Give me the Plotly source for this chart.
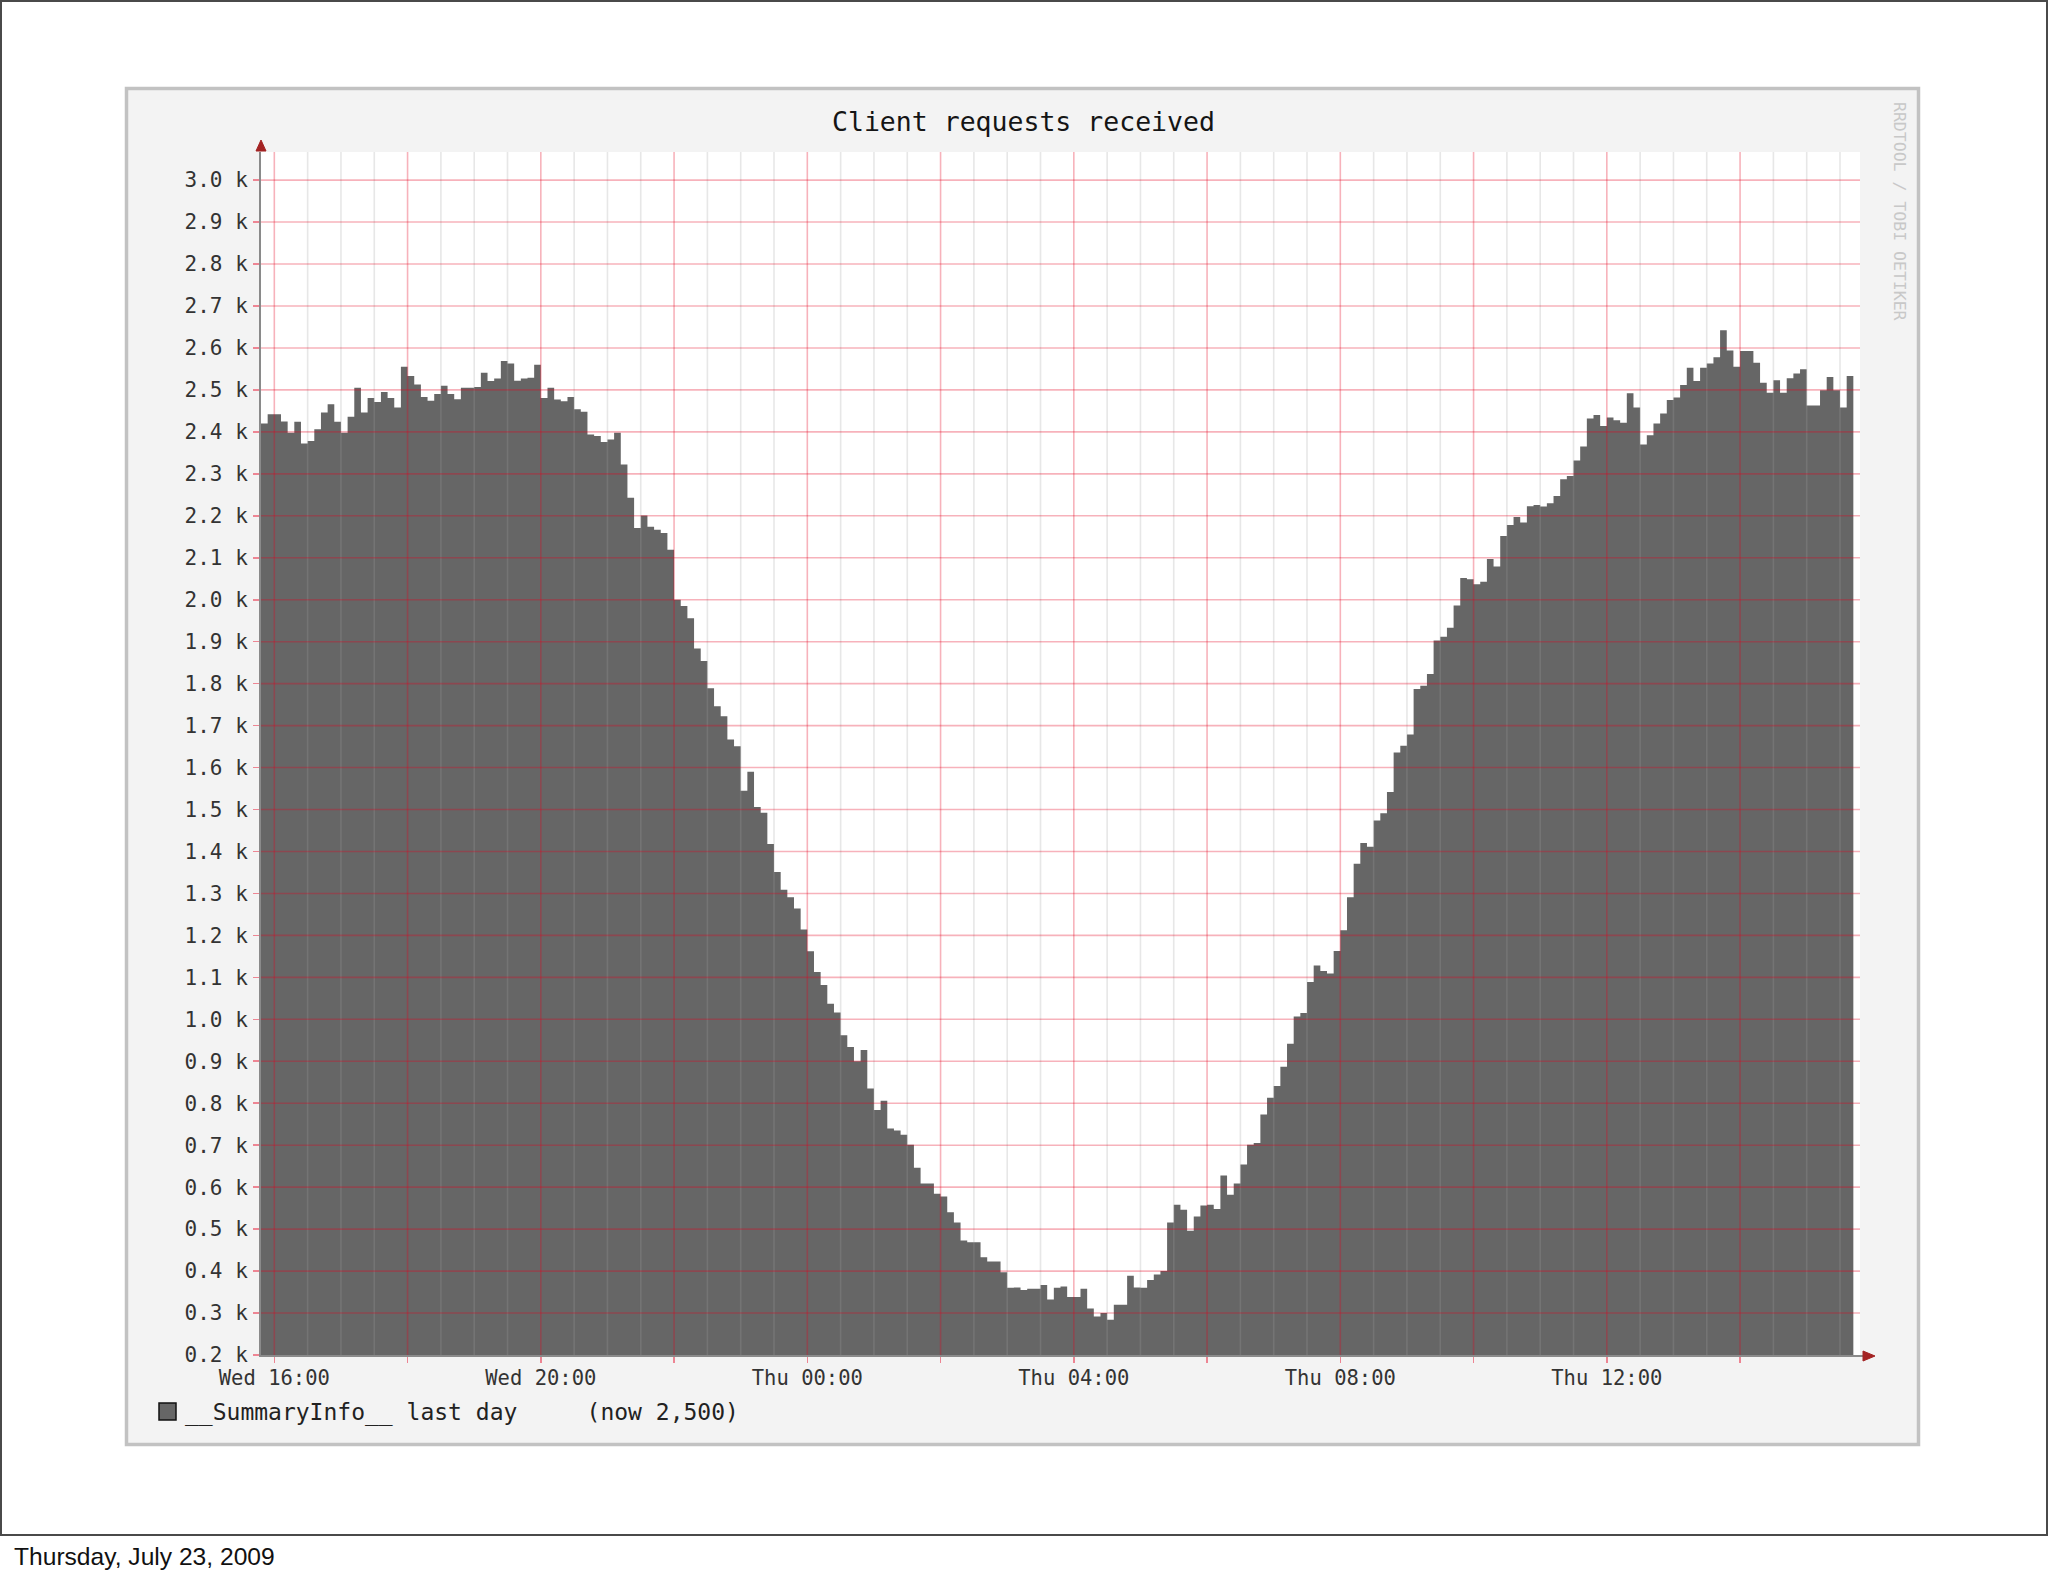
import plotly.graph_objects as go
import pandas as pd

W, H = 2048, 1576

# ---------------- data ----------------
title_text = "Client requests received"
legend_text = "__SummaryInfo__ last day     (now 2,500)"
date_text = "Thursday, July 23, 2009"
watermark_text = "RRDTOOL / TOBI OETIKER"

start_time = "2009-07-22 15:48"   # start of first 6-minute step
end_time = "2009-07-23 15:48"     # right edge of the graph
step = "6min"

requests = [
    2420, 2442, 2442, 2425, 2398, 2424, 2372, 2378, 2406, 2446,
    2466, 2424, 2398, 2436, 2505, 2446, 2481, 2471, 2495, 2481,
    2458, 2555, 2533, 2513, 2483, 2474, 2490, 2510, 2490, 2478,
    2505, 2505, 2507, 2541, 2521, 2527, 2569, 2563, 2522, 2527,
    2529, 2560, 2481, 2505, 2477, 2473, 2483, 2454, 2448, 2394,
    2390, 2376, 2382, 2398, 2322, 2243, 2171, 2201, 2174, 2167,
    2159, 2119, 2000, 1985, 1956, 1884, 1854, 1789, 1746, 1722,
    1667, 1651, 1545, 1590, 1506, 1492, 1418, 1351, 1309, 1291,
    1264, 1214, 1162, 1113, 1082, 1037, 1016, 962, 934, 900,
    927, 835, 784, 806, 740, 735, 725, 701, 646, 609,
    609, 584, 578, 540, 516, 473, 469, 469, 433, 423,
    423, 397, 360, 361, 355, 358, 358, 367, 332, 360,
    363, 338, 338, 358, 311, 292, 300, 284, 320, 320,
    389, 361, 360, 379, 392, 400, 516, 558, 546, 496,
    530, 556, 558, 548, 628, 582, 609, 654, 701, 705,
    773, 813, 841, 887, 942, 1007, 1015, 1089, 1128, 1115,
    1109, 1163, 1212, 1291, 1371, 1420, 1411, 1474, 1491, 1542,
    1636, 1652, 1679, 1787, 1795, 1823, 1903, 1912, 1933, 1986,
    2052, 2049, 2037, 2043, 2097, 2079, 2152, 2178, 2197, 2184,
    2223, 2226, 2222, 2230, 2247, 2287, 2295, 2332, 2365, 2432,
    2440, 2414, 2434, 2428, 2422, 2492, 2458, 2370, 2392, 2420,
    2444, 2476, 2482, 2512, 2553, 2521, 2553, 2563, 2578, 2642,
    2594, 2555, 2593, 2593, 2565, 2517, 2493, 2523, 2493, 2528,
    2539, 2549, 2463, 2463, 2499, 2531, 2499, 2458, 2533,
]

y_tick_values = [200, 300, 400, 500, 600, 700, 800, 900, 1000, 1100,
                 1200, 1300, 1400, 1500, 1600, 1700, 1800, 1900, 2000,
                 2100, 2200, 2300, 2400, 2500, 2600, 2700, 2800, 2900, 3000]
y_tick_labels = ["0.2 k", "0.3 k", "0.4 k", "0.5 k", "0.6 k", "0.7 k",
                 "0.8 k", "0.9 k", "1.0 k", "1.1 k", "1.2 k", "1.3 k",
                 "1.4 k", "1.5 k", "1.6 k", "1.7 k", "1.8 k", "1.9 k",
                 "2.0 k", "2.1 k", "2.2 k", "2.3 k", "2.4 k", "2.5 k",
                 "2.6 k", "2.7 k", "2.8 k", "2.9 k", "3.0 k"]
y_range = [200, 3067]

x_tick_times = ["2009-07-22 16:00", "2009-07-22 18:00", "2009-07-22 20:00",
                "2009-07-22 22:00", "2009-07-23 00:00", "2009-07-23 02:00",
                "2009-07-23 04:00", "2009-07-23 06:00", "2009-07-23 08:00",
                "2009-07-23 10:00", "2009-07-23 12:00", "2009-07-23 14:00"]
x_tick_labels = ["Wed 16:00", "", "Wed 20:00", "", "Thu 00:00", "",
                 "Thu 04:00", "", "Thu 08:00", "", "Thu 12:00", ""]
minor_grid_start = "2009-07-22 16:30"
minor_grid_end = "2009-07-23 15:30"

# ---------------- helpers ----------------
def px(x):
    return x / W


def py(y):
    return 1 - y / H


MONO = "DejaVu Sans Mono"
AREA = "#666666"
MAJOR = "rgba(230,0,30,0.30)"
MINOR = "rgba(160,160,160,0.25)"

# plot area in pixels
PL, PR, PT, PB = 261, 1860, 152, 1355

step_starts = pd.date_range(start_time, periods=len(requests) + 1, freq=step)
xs = list(step_starts)
ys = requests + [requests[-1]]

fig = go.Figure()
fig.add_trace(go.Scatter(
    x=xs, y=ys, mode="lines", line=dict(shape="hv", width=0, color=AREA),
    fill="tozeroy", fillcolor=AREA, name="__SummaryInfo__",
    hoverinfo="skip", showlegend=False,
))

shapes = []
# slide frame
shapes.append(dict(type="rect", xref="paper", yref="paper", layer="below",
                   x0=px(1), x1=px(2047), y0=py(1), y1=py(1535),
                   line=dict(color="#4a4a4a", width=2), fillcolor="rgba(0,0,0,0)"))
# rrdtool image frame
shapes.append(dict(type="rect", xref="paper", yref="paper", layer="below",
                   x0=px(126.5), x1=px(1918.5), y0=py(88.5), y1=py(1444.5),
                   line=dict(color="#c2c2c2", width=3.5), fillcolor="#f3f3f3"))
# white canvas
shapes.append(dict(type="rect", xref="paper", yref="paper", layer="below",
                   x0=px(PL), x1=px(PR), y0=py(PT), y1=py(PB),
                   line=dict(width=0), fillcolor="#ffffff"))

# grid: minor vertical (every 30 min, skipping the 2-hour majors)
major_set = set(pd.to_datetime(x_tick_times))
for t in pd.date_range(minor_grid_start, minor_grid_end, freq="30min"):
    if t in major_set:
        continue
    shapes.append(dict(type="line", xref="x", yref="y domain", layer="above",
                       x0=t, x1=t, y0=0, y1=1, line=dict(color=MINOR, width=1.6)))
for t in pd.to_datetime(x_tick_times):
    shapes.append(dict(type="line", xref="x", yref="y domain", layer="above",
                       x0=t, x1=t, y0=0, y1=1, line=dict(color=MAJOR, width=1.6)))
for v in y_tick_values[1:]:
    shapes.append(dict(type="line", xref="x domain", yref="y", layer="above",
                       x0=0, x1=1, y0=v, y1=v, line=dict(color=MAJOR, width=1.6)))

# axis arrows
ARROW = "#a32222"
shapes.append(dict(type="line", xref="paper", yref="paper", layer="above",
                   x0=px(PR), x1=px(1865), y0=py(PB + 1), y1=py(PB + 1),
                   line=dict(color="#8a8a8a", width=2)))
shapes.append(dict(type="path", xref="paper", yref="paper", layer="above",
                   path=f"M {px(1863)},{py(PB - 4)} L {px(1875)},{py(PB + 1)} L {px(1863)},{py(PB + 6)} Z",
                   fillcolor=ARROW, line=dict(color=ARROW, width=1)))
shapes.append(dict(type="path", xref="paper", yref="paper", layer="above",
                   path=f"M {px(PL - 5)},{py(PT - 1)} L {px(PL)},{py(PT - 12)} L {px(PL + 5)},{py(PT - 1)} Z",
                   fillcolor=ARROW, line=dict(color=ARROW, width=1)))

# legend square
shapes.append(dict(type="rect", xref="paper", yref="paper", layer="above",
                   x0=px(159), x1=px(176), y0=py(1403), y1=py(1420),
                   fillcolor=AREA, line=dict(color="#111111", width=1.5)))

annotations = [
    dict(text=title_text, x=px(1023), y=py(121), xref="paper", yref="paper",
         xanchor="center", yanchor="middle", showarrow=False,
         font=dict(family=MONO, size=26.5, color="#151515")),
    dict(text=legend_text, x=px(183), y=py(1412), xref="paper", yref="paper",
         xanchor="left", yanchor="middle", showarrow=False,
         font=dict(family=MONO, size=23, color="#222222")),
    dict(text=watermark_text, x=px(1900), y=py(211), xref="paper", yref="paper",
         xanchor="center", yanchor="middle", showarrow=False, textangle=90,
         font=dict(family=MONO, size=16.5, color="#c8c8c8")),
    dict(text=date_text, x=px(12), y=py(1556), xref="paper", yref="paper",
         xanchor="left", yanchor="middle", showarrow=False,
         font=dict(family="Liberation Sans", size=24.6, color="#111111")),
]

fig.update_layout(
    width=W, height=H,
    autosize=False,
    margin=dict(l=0, r=0, t=0, b=0, pad=0, autoexpand=False),
    paper_bgcolor="#ffffff",
    plot_bgcolor="rgba(0,0,0,0)",
    showlegend=False,
    shapes=shapes,
    annotations=annotations,
    xaxis=dict(
        domain=[px(PL), px(PR)],
        type="date",
        range=[start_time, end_time],
        tickmode="array", tickvals=x_tick_times, ticktext=x_tick_labels,
        ticks="outside", ticklen=6, tickwidth=1.6, tickcolor="rgba(230,0,30,0.45)",
        showgrid=False, zeroline=False, automargin=False,
        showline=True, linecolor="#8a8a8a", linewidth=2,
        layer="above traces",
        tickfont=dict(family=MONO, size=20.5, color="#333333"),
        ticklabelstandoff=-3,
        fixedrange=True,
    ),
    yaxis=dict(
        domain=[py(PB), py(PT)],
        range=y_range,
        tickmode="array", tickvals=y_tick_values, ticktext=y_tick_labels,
        ticks="outside", ticklen=6, tickwidth=1.6, tickcolor="rgba(230,0,30,0.45)",
        showgrid=False, zeroline=False, automargin=False,
        showline=True, linecolor="#8a8a8a", linewidth=2,
        layer="above traces",
        tickfont=dict(family=MONO, size=21, color="#333333"),
        ticklabelstandoff=1,
        fixedrange=True,
    ),
)

fig.write_html(
    "out.html",
    config={"displayModeBar": False, "staticPlot": True},
    post_script="document.documentElement.style.margin='0';document.body.style.margin='0';document.body.style.overflow='hidden';",
)
